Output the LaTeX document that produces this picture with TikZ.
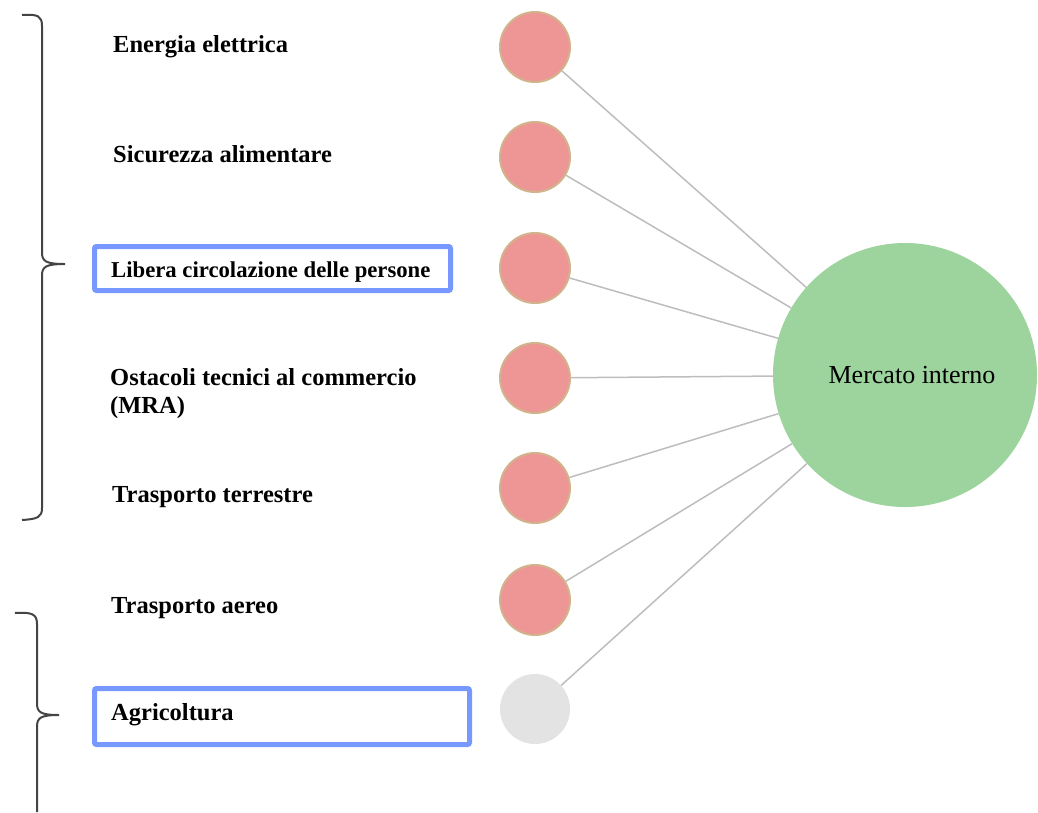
\documentclass[tikz,border=0pt]{standalone}
\usepackage{fontspec}
\setmainfont{Liberation Serif}
\definecolor{redfill}{HTML}{EE9595}
\definecolor{tanline}{HTML}{D2B48C}
\definecolor{greyfill}{HTML}{E3E3E3}
\definecolor{greenfill}{HTML}{9DD39D}
\definecolor{boxblue}{HTML}{7799FF}
\definecolor{linkgrey}{HTML}{BDBDBD}
\definecolor{bracegrey}{HTML}{444444}
\begin{document}
\begin{tikzpicture}[x=1pt,y=-1pt,
  topic/.style={circle,fill=redfill,draw=tanline,line width=2pt,minimum size=70pt,inner sep=0pt},
  topicgrey/.style={circle,fill=greyfill,minimum size=70pt,inner sep=0pt},
  hub/.style={circle,fill=greenfill,minimum size=264pt,inner sep=0pt},
  lbl/.style={anchor=base west,inner sep=0pt,font=\fontsize{24.5}{28}\selectfont\bfseries,align=left},
  hlbox/.style={draw=boxblue,line width=5pt,rounded corners=2pt,inner sep=0pt},
  link/.style={draw=linkgrey,line width=1.5pt},
  brace/.style={draw=bracegrey,line width=2pt}]
\useasboundingbox (0,0) rectangle (1038,812);

% highlight boxes
\node[hlbox,minimum width=356pt,minimum height=44pt] (box3) at (272.5,268.5) {};
\node[hlbox,minimum width=375pt,minimum height=56pt] (box7) at (282,716.5) {};

% labels
\node[lbl] (t1) at (113,52) {Energia elettrica};
\node[lbl] (t2) at (113,162) {Sicurezza alimentare};
\node[lbl,font=\fontsize{22.7}{26}\selectfont\bfseries] (t3) at (111,277) {Libera circolazione delle persone};
\node[lbl] (t4) at (110,385) {Ostacoli tecnici al commercio};
\node[lbl] (t4b) at (110,413) {(MRA)};
\node[lbl] (t5) at (112,502) {Trasporto terrestre};
\node[lbl] (t6) at (111,613) {Trasporto aereo};
\node[lbl] (t7) at (111,720) {Agricoltura};

% hub
\node[hub] (m) at (905,375) {};
\node[anchor=base,inner sep=0pt,font=\fontsize{26}{29}\selectfont] (mt) at (912,383) {Mercato interno};

% topic circles
\node[topic] (c1) at (535,47) {};
\node[topic] (c2) at (535,157) {};
\node[topic] (c3) at (535,268) {};
\node[topic] (c4) at (535,378) {};
\node[topic] (c5) at (535,488) {};
\node[topic] (c6) at (535,600) {};
\node[topicgrey] (c7) at (535,709) {};

% links
\foreach \c in {c1,c2,c3,c4,c5,c6,c7} \draw[link] (\c) -- (m);

% braces
\draw[brace] (22,15) .. controls (38,14) and (42,16) .. (42,26)
  -- (42,252) .. controls (42,261) and (45,264) .. (65,264)
  .. controls (45,264) and (42,267) .. (42,276)
  -- (42,508) .. controls (42,517) and (38,519) .. (22,520);
\draw[brace] (15,613) .. controls (32,612) and (37,614) .. (37,624)
  -- (37,703) .. controls (37,712) and (40,715) .. (59,715)
  .. controls (40,715) and (37,718) .. (37,727)
  -- (37,812);
\end{tikzpicture}
\end{document}
